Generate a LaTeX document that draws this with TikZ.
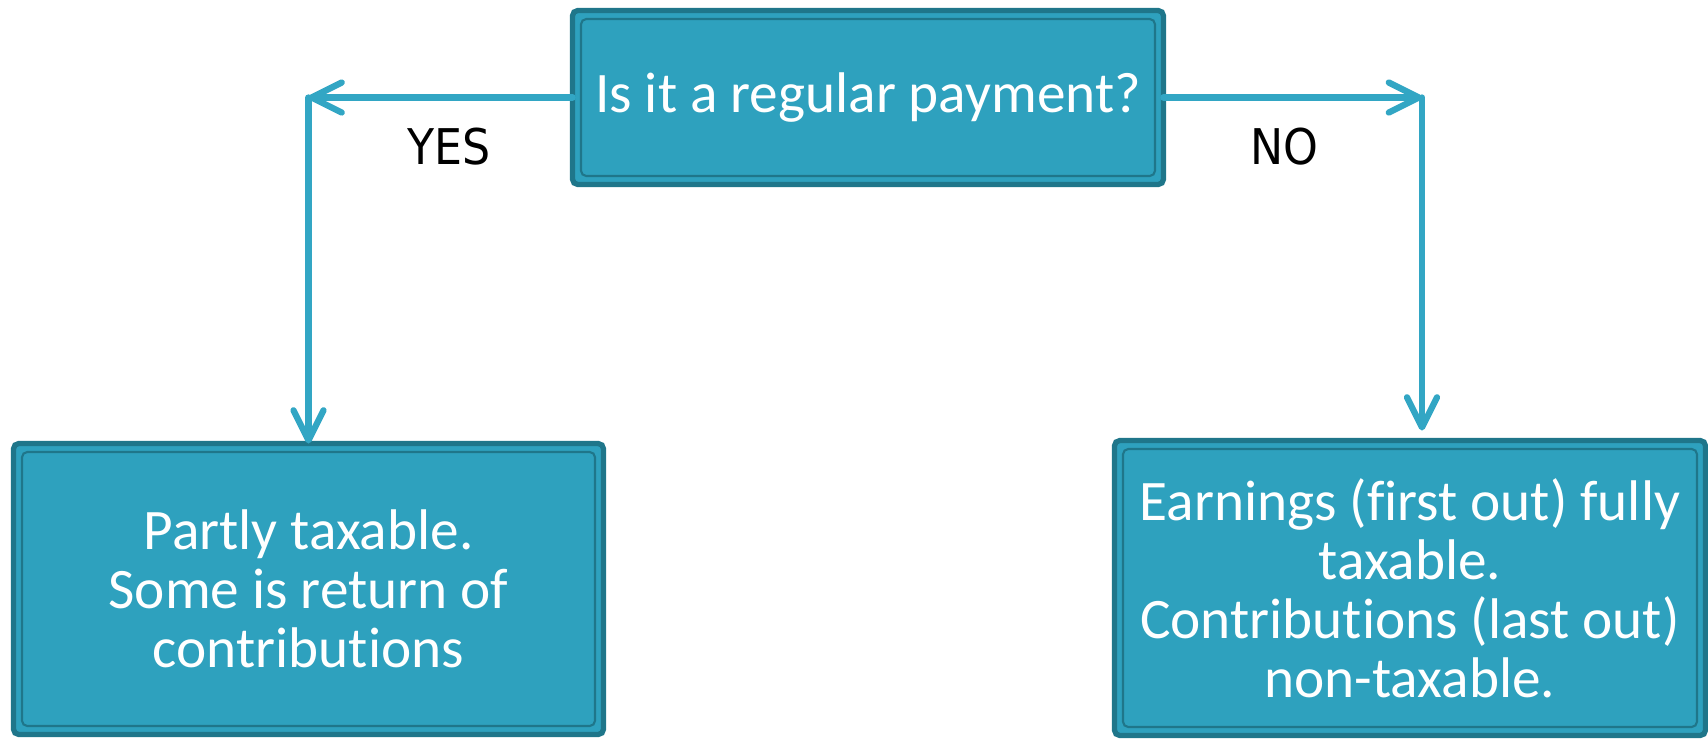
\documentclass[tikz,border=0pt]{standalone}
\usepackage{fontspec}
\setmainfont{Carlito}[Ligatures=NoCommon]
\newfontfamily\answerfont{DejaVu Sans Condensed}
\usetikzlibrary{arrows.meta, positioning}
\definecolor{boxteal}{HTML}{2EA1BE}
\definecolor{edgeteal}{HTML}{1F768A}
\definecolor{lineteal}{HTML}{32A6C4}
\tikzset{
    tealbox/.style={rectangle, draw=edgeteal, line width=1.5pt, fill=boxteal, rounded corners=1.5pt, outer sep=0pt, align=center, text=white, font=\fontsize{16.3}{16.8}\selectfont,
        path picture={\draw[edgeteal, line width=0.6pt] ([shift={(0.085cm,-0.085cm)}]path picture bounding box.north west) rectangle ([shift={(-0.085cm,0.085cm)}]path picture bounding box.south east);}},
    flow/.style={-{Straight Barb[length=0.3cm, width=0.3cm, round]}, line width=1.8pt, draw=lineteal, line cap=round},
    answer/.style={font=\answerfont\fontsize{14}{16}\selectfont, text=black}
}

\begin{document}
\begin{tikzpicture}
    \useasboundingbox (0,0) rectangle (17.08,-7.38);
    \node[tealbox, minimum width=5.91cm, minimum height=1.74cm] (ask) at (8.68,-0.975) {Is it a regular payment?};
    \node[tealbox, minimum width=5.9cm, minimum height=2.91cm, below left=2.59cm and -0.31cm of ask] (partly) {Partly taxable.\\Some is return of\\contributions};
    \node[tealbox, minimum width=5.91cm, minimum height=2.95cm, below right=2.56cm and -0.49cm of ask] (fully) {Earnings (first out) fully\\taxable.\\Contributions (last out)\\non-taxable.};
    \coordinate (yesturn) at (partly.north |- ask.west);
    \coordinate[xshift=0.12cm] (noturn) at (fully.north |- ask.east);
    \draw[flow] (ask.west) -- node[answer, midway, below=0.16cm, xshift=0.09cm] {YES} (yesturn);
    \draw[flow] (yesturn) -- (partly.north);
    \draw[flow] (ask.east) -- node[answer, midway, below=0.16cm, xshift=-0.08cm] {NO} (noturn);
    \draw[flow, shorten >=0.1cm] (noturn) -- (noturn |- fully.north);
\end{tikzpicture}
\end{document}
